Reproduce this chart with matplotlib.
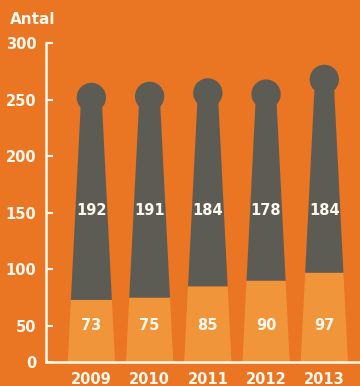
import matplotlib
matplotlib.use("Agg")
import matplotlib.pyplot as plt
from matplotlib.patches import Polygon, Ellipse

# data
years = ["2009", "2010", "2011", "2012", "2013"]
lower = [73, 75, 85, 90, 97]
upper = [192, 191, 184, 178, 184]
yticks = [50, 100, 150, 200, 250, 300]

BG = "#EA7523"
LIGHT = "#F1953B"
DARK = "#5D5C54"
TXT = "#FFF8EE"

Y0 = 18          # axis is cut: the "0" sits at this level
BASE_HW = 0.406  # half width of a bar at the axis
TAPER = 0.00098  # shrink of the half width per unit of value
R_X, R_Y = 0.252, 13.0  # knob radius in x / y units

plt.rcParams["font.family"] = ["DejaVu Sans"]
plt.rcParams["font.weight"] = "bold"

fig = plt.figure(figsize=(3.6, 3.86), dpi=100, facecolor=BG)
ax = fig.add_axes([0.128, 0.0619, 0.872, 0.8554])
ax.set_facecolor(BG)
ax.set_xlim(-0.778, 4.613)
ax.set_ylim(Y0, 310)


def hw(v):
    return BASE_HW - TAPER * (v - Y0)


def seg(x, v0, v1, color):
    pts = [(x - hw(v0), v0), (x + hw(v0), v0), (x + hw(v1), v1), (x - hw(v1), v1)]
    ax.add_patch(Polygon(pts, closed=True, facecolor=color, edgecolor="none"))


for i, (lo, up) in enumerate(zip(lower, upper)):
    total = lo + up
    seg(i, 0, lo, LIGHT)
    seg(i, lo, total - R_Y, DARK)
    ax.add_patch(Ellipse((i, total - R_Y), 2 * R_X, 2 * R_Y,
                         facecolor=DARK, edgecolor="none"))
    ax.text(i, 50, str(lo), ha="center", va="center", color=TXT,
            fontsize=10.5, fontweight="bold")
    ax.text(i, 152, str(up), ha="center", va="center", color=TXT,
            fontsize=10.5, fontweight="bold")

for s in ["top", "right"]:
    ax.spines[s].set_visible(False)
for s in ["left", "bottom"]:
    ax.spines[s].set_color(TXT)
    ax.spines[s].set_linewidth(1.8)
ax.spines["left"].set_bounds(Y0, 300)

ax.set_yticks([Y0] + yticks)
ax.set_yticklabels(["0"] + [str(t) for t in yticks])
ax.tick_params(axis="y", direction="in", length=5, width=1.5, color=TXT,
               labelcolor=TXT, labelsize=10.5, pad=7)
ax.set_xticks(range(len(years)))
ax.set_xticklabels(years)
ax.tick_params(axis="x", length=0, labelcolor=TXT, labelsize=10.5, pad=7)
for lab in ax.get_xticklabels() + ax.get_yticklabels():
    lab.set_fontweight("bold")

fig.text(10 / 360, 1 - 24 / 386, "Antal", color=TXT, fontsize=11,
         fontweight="bold", ha="left", va="baseline")

fig.savefig("out.png", dpi=100, facecolor=BG)
